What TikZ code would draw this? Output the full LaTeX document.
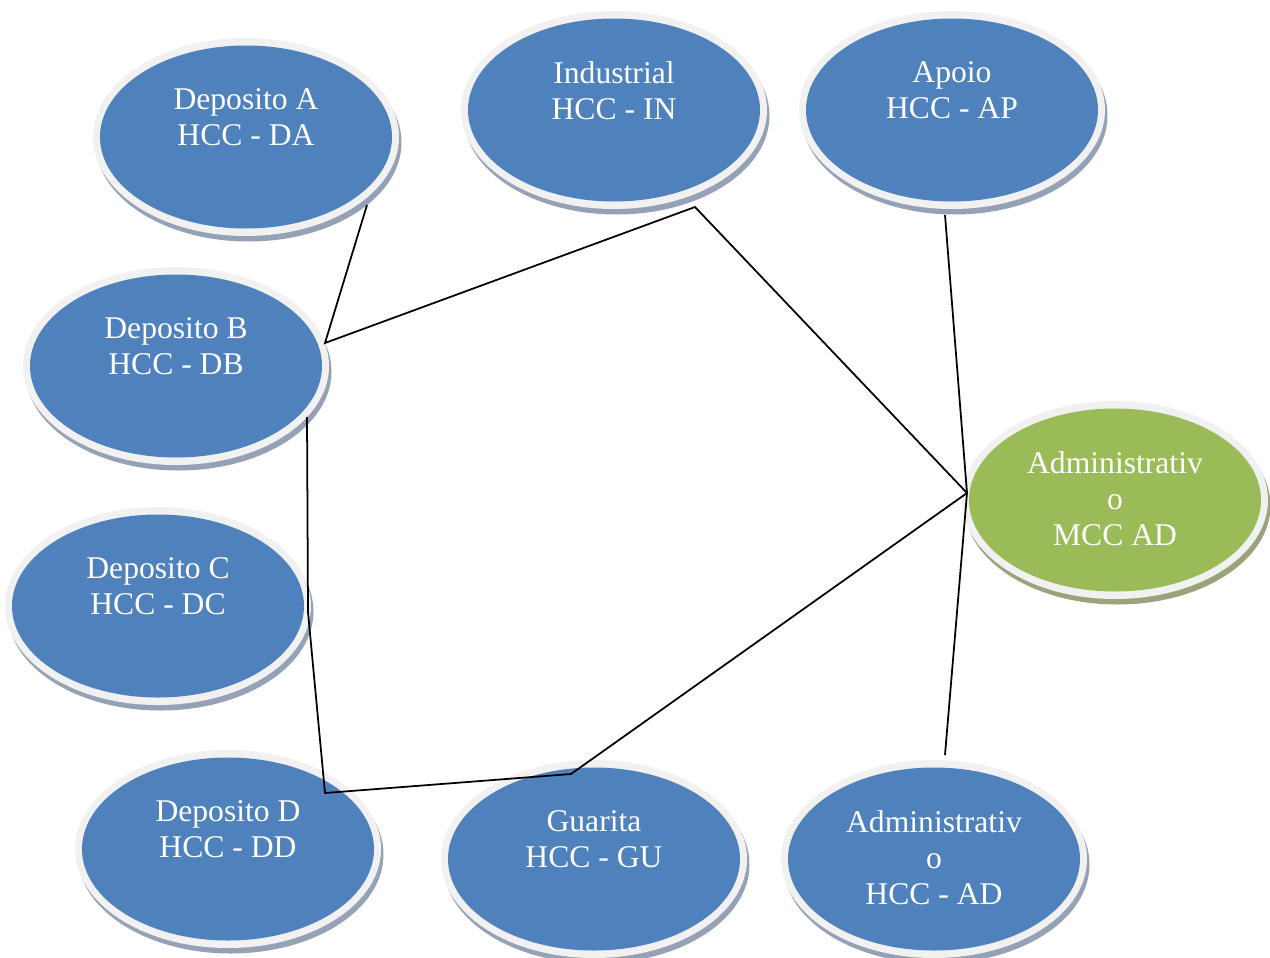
\documentclass[tikz,border=0pt]{standalone}
\usepackage{fontspec}
\setmainfont{Liberation Serif}
\usetikzlibrary{shapes.geometric,shadows}
\definecolor{hccblue}{HTML}{4F81BD}
\definecolor{mccgreen}{HTML}{9BBB59}
\definecolor{ringgray}{HTML}{F1F1F1}
\definecolor{rimblue}{HTML}{95A2B6}
\definecolor{rimgreen}{HTML}{9AA47C}
\begin{document}
\begin{tikzpicture}[x=0.2mm,y=-0.2mm,
        bubble/.style 2 args={ellipse, inner sep=0pt, minimum width=61.2mm,
                minimum height=39.6mm, fill=ringgray,
                drop shadow={fill=#2, opacity=1, shadow xshift=0.5mm, shadow yshift=-1.1mm},
                path picture={\fill[#1] (path picture bounding box.center)
                        ellipse [x radius=29.2mm, y radius=18.3mm];}},
        txt/.style={text=white, font=\fontsize{18}{20.5}\selectfont, align=center,
                anchor=north, inner sep=0pt},
        link/.style={line width=1pt}]
        \useasboundingbox (0,0) rectangle (1270,958);
        \node[bubble={hccblue}{rimblue}] (da) at (246,137) {};
        \node[bubble={hccblue}{rimblue}] (ind) at (614,110) {};
        \node[bubble={hccblue}{rimblue}] (ap) at (952,110) {};
        \node[bubble={hccblue}{rimblue}] (db) at (176,366) {};
        \node[bubble={hccblue}{rimblue}] (dc) at (158,606) {};
        \node[bubble={mccgreen}{rimgreen}] (mcc) at (1115,500) {};
        \node[bubble={hccblue}{rimblue}] (dd) at (228,849) {};
        \node[bubble={hccblue}{rimblue}] (gu) at (594,859) {};
        \node[bubble={hccblue}{rimblue}] (adh) at (934,859) {};
        \node[txt] (da-t) at ([shift={(0,-49)}]da.center) {Deposito A\\HCC - DA};
        \node[txt] (ind-t) at ([shift={(0,-49)}]ind.center) {Industrial\\HCC - IN};
        \node[txt] (ap-t) at ([shift={(0,-49)}]ap.center) {Apoio\\HCC - AP};
        \node[txt] (db-t) at ([shift={(0,-49)}]db.center) {Deposito B\\HCC - DB};
        \node[txt] (dc-t) at ([shift={(0,-49)}]dc.center) {Deposito C\\HCC - DC};
        \node[txt] (mcc-t) at ([shift={(0,-49)}]mcc.center) {Administrativ\\o\\MCC AD};
        \node[txt] (dd-t) at ([shift={(0,-49)}]dd.center) {Deposito D\\HCC - DD};
        \node[txt] (gu-t) at ([shift={(0,-49)}]gu.center) {Guarita\\HCC - GU};
        \node[txt] (adh-t) at ([shift={(0,-49)}]adh.center) {Administrativ\\o\\HCC - AD};
        \coordinate (hub) at ([shift={(-148,-7)}]mcc.center);
        \draw[link] ([shift={(121,68)}]da.center) -- ([shift={(149,-23)}]db.center)
                -- ([shift={(81,97)}]ind.center) -- (hub);
        \draw[link] ([shift={(-7,105)}]ap.center) -- (hub) -- ([shift={(11,-104)}]adh.center);
        \draw[link] (hub) -- ([shift={(-23,-85)}]gu.center) -- ([shift={(97,-56)}]dd.center)
                -- ([shift={(150,6)}]dc.center) -- ([shift={(131,51)}]db.center);
\end{tikzpicture}
\end{document}
